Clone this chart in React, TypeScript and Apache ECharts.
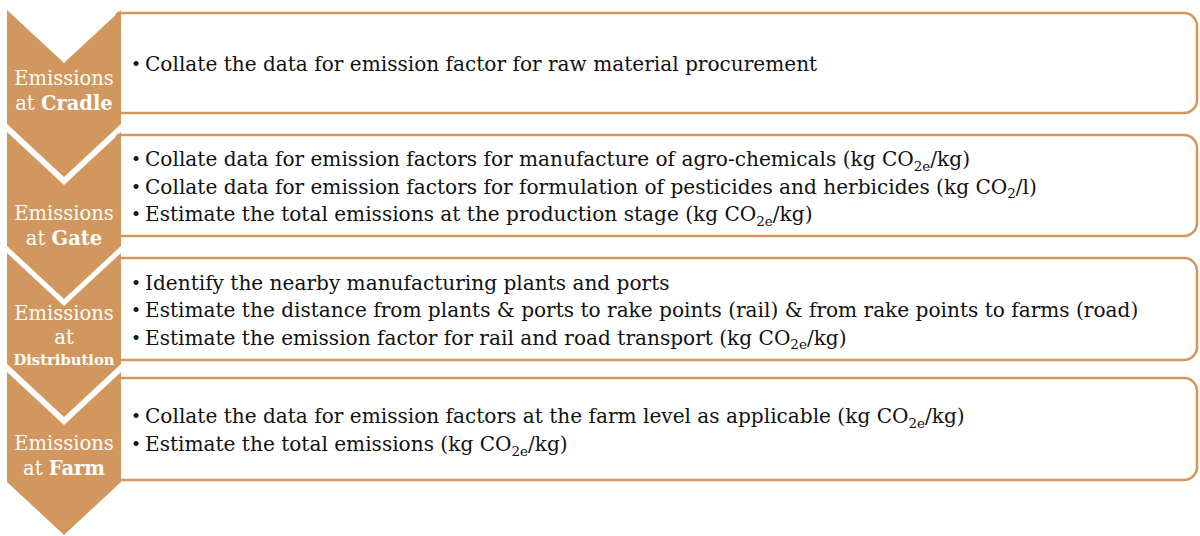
import React, { useEffect, useRef } from "react";
import * as echarts from "echarts";

// ---- content ----
const stagePrefix = "Emissions";
const stageLabels = ["Cradle", "Gate", "Distribution", "Farm"];
const stageBullets: string[][] = [
  ["Collate the data for emission factor for raw material procurement"],
  [
    "Collate data for emission factors for manufacture of agro-chemicals (kg CO_{2e}/kg)",
    "Collate data for emission factors for formulation of pesticides and herbicides (kg CO_{2}/l)",
    "Estimate the total emissions at the production stage (kg CO_{2e}/kg)",
  ],
  [
    "Identify the nearby manufacturing plants and ports",
    "Estimate the distance from plants & ports to rake points (rail) & from rake points to farms (road)",
    "Estimate the emission factor for rail and road transport (kg CO_{2e}/kg)",
  ],
  [
    "Collate the data for emission factors at the farm level as applicable (kg CO_{2e}/kg)",
    "Estimate the total emissions (kg CO_{2e}/kg)",
  ],
];

// ---- layout ----
const FONT = "'DejaVu Serif', 'Liberation Serif', serif";
const FILL = "#D1975E";
const STROKE = "#D4965C";
const TEXT_SIZE = 20.1;
const CHEV_L = 7;
const CHEV_R = 121;
const CHEV_D = 53;
const chevTop = [10, 132, 253, 372];
const chevBottom = [124, 246, 364, 482];
const boxTop = [13, 135, 258, 378];
const boxBottom = [113, 236, 360, 480];
const labelFirstY = [78, 213, 313, 443];
const BOX_R_X = 1197;

function toRich(s: string) {
  return "{b|•}{n|" + s.replace(/_\{([^}]*)\}/g, "}{s|$1}{n|") + "}";
}

function buildGraphics() {
  const els: any[] = [];
  // boxes
  stageBullets.forEach((lines, i) => {
    els.push({
      type: "rect",
      z: 1,
      shape: {
        x: CHEV_R - 4,
        y: boxTop[i],
        width: BOX_R_X - (CHEV_R - 4),
        height: boxBottom[i] - boxTop[i],
        r: [0, 13, 13, 0],
      },
      style: { fill: "#fff", stroke: STROKE, lineWidth: 2.5 },
    });
    els.push({
      type: "text",
      z: 5,
      x: 131,
      y: (boxTop[i] + boxBottom[i]) / 2 + 1,
      style: {
        text: lines.map(toRich).join("\n"),
        align: "left",
        verticalAlign: "middle",
        textAlign: "left",
        textVerticalAlign: "middle",
        fontFamily: FONT,
        fontSize: TEXT_SIZE,
        fill: "#111",
        rich: {
          b: { fontFamily: FONT, fontSize: 17, width: 14, lineHeight: 27.5, verticalAlign: "middle", fill: "#111" },
          n: { fontFamily: FONT, fontSize: TEXT_SIZE, lineHeight: 27.5, verticalAlign: "middle", fill: "#111" },
          s: { fontFamily: FONT, fontSize: 13.5, lineHeight: 15, verticalAlign: "bottom", fill: "#111" },
        },
      },
    });
  });
  // chevrons
  const cx = (CHEV_L + CHEV_R) / 2;
  stageLabels.forEach((label, i) => {
    const T = chevTop[i];
    const B = chevBottom[i];
    els.push({
      type: "polygon",
      z: 3,
      shape: {
        points: [
          [CHEV_L, T],
          [cx, T + CHEV_D],
          [CHEV_R, T],
          [CHEV_R, B],
          [cx, B + CHEV_D],
          [CHEV_L, B],
        ],
      },
      style: { fill: FILL },
    });
    const small = label.length > 8;
    const lines = small
      ? [
          { text: `{w|${stagePrefix}}`, dy: 0 },
          { text: "{w|at}", dy: 24 },
          { text: `{bs|${label}}`, dy: 46 },
        ]
      : [
          { text: `{w|${stagePrefix}}`, dy: 0 },
          { text: `{w|at }{wb|${label}}`, dy: 25 },
        ];
    lines.forEach((ln) => {
      els.push({
        type: "text",
        z: 6,
        x: cx,
        y: labelFirstY[i] + ln.dy,
        style: {
          text: ln.text,
          align: "center",
          verticalAlign: "middle",
          textAlign: "center",
          textVerticalAlign: "middle",
          fontFamily: FONT,
          fontSize: 19.5,
          fill: "#fff",
          rich: {
            w: { fontFamily: FONT, fontSize: 19.5, fill: "#fff" },
            wb: { fontFamily: FONT, fontSize: 19.5, fontWeight: "bold", fill: "#fff" },
            bs: { fontFamily: FONT, fontSize: 14.8, fontWeight: "bold", fill: "#fff" },
          },
        },
      });
    });
  });
  return els;
}

export default function App() {
  const ref = useRef<HTMLDivElement>(null);
  useEffect(() => {
    document.body.style.margin = "0";
    const chart = echarts.init(ref.current!, undefined, { renderer: "svg" });
    chart.setOption({
      animation: false,
      backgroundColor: "#ffffff",
      graphic: { elements: buildGraphics() },
    });
    return () => chart.dispose();
  }, []);
  return <div ref={ref} style={{ width: 1200, height: 536, position: "absolute", left: 0, top: 0 }} />;
}
